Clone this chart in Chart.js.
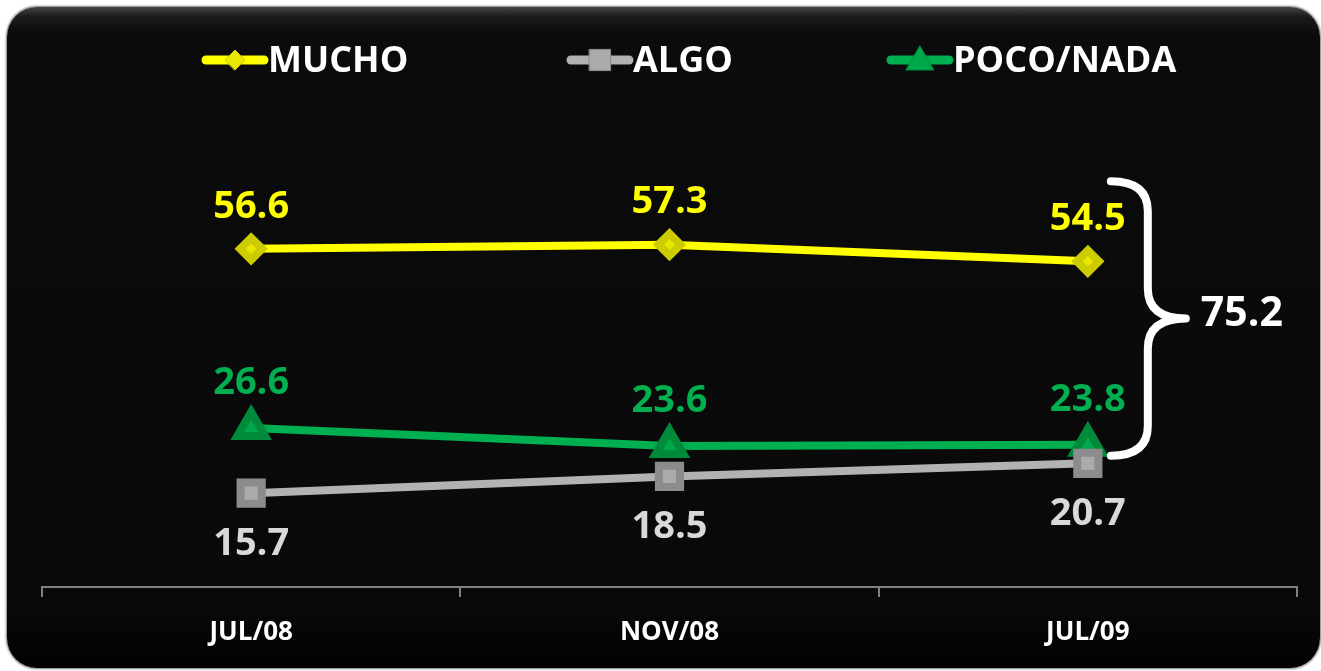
<!DOCTYPE html>
<html>
<head>
<meta charset="utf-8">
<script src="https://cdn.jsdelivr.net/npm/chart.js@4.4.1/dist/chart.umd.min.js"></script>
<style>
html,body{margin:0;padding:0;background:#fff;width:1321px;height:671px;overflow:hidden;}
#panel{position:absolute;left:7px;top:7px;width:1313px;height:661px;border-radius:30px;
background:linear-gradient(to bottom,#444 0px,#1a1a1a 10px,#0b0b0b 28px,#090909 90%,#020202 100%);
box-shadow:0 0 2px 1px rgba(90,90,90,0.8);}
#wrap{position:absolute;left:0;top:0;width:1321px;height:671px;}
</style>
</head>
<body>
<div id="panel"></div>
<div id="wrap"><canvas id="c" width="1321" height="671"></canvas></div>
<script>
const categories = ['JUL/08', 'NOV/08', 'JUL/09'];
const mucho = [56.6, 57.3, 54.5];
const algo = [15.7, 18.5, 20.7];
const pocoNada = [26.6, 23.6, 23.8];
const seriesNames = ['MUCHO', 'ALGO', 'POCO/NADA'];
const bracketTotal = '75.2';

const FONT = '"Open Sans", "DejaVu Sans", sans-serif';

const labelsPlugin = {
  id: 'valueLabels',
  afterDatasetsDraw(chart) {
    const ctx = chart.ctx;
    ctx.save();
    ctx.font = 'bold 38px ' + FONT;
    ctx.textAlign = 'center';
    ctx.textBaseline = 'middle';
    chart.data.datasets.forEach((ds, i) => {
      const meta = chart.getDatasetMeta(i);
      meta.data.forEach((pt, j) => {
        ctx.fillStyle = ds.labelColor;
        ctx.fillText(ds.data[j].toFixed(1), pt.x, pt.y + ds.labelOffset);
      });
    });
    ctx.restore();
  }
};

const bracePlugin = {
  id: 'brace',
  afterDatasetsDraw(chart) {
    const ctx = chart.ctx;
    const top = chart.getDatasetMeta(0).data[2];
    const bot = chart.getDatasetMeta(2).data[2];
    const x0 = top.x + 23;
    const y0 = top.y - 80;
    const y1 = bot.y + 11;
    const xm = x0 + 37;
    const ym = (y0 + y1) / 2;
    const xt = x0 + 75;
    const r = 30;
    ctx.save();
    ctx.strokeStyle = '#ffffff';
    ctx.lineWidth = 8;
    ctx.lineCap = 'round';
    ctx.lineJoin = 'round';
    ctx.beginPath();
    ctx.moveTo(x0, y0);
    ctx.quadraticCurveTo(xm, y0, xm, y0 + r);
    ctx.lineTo(xm, ym - r);
    ctx.quadraticCurveTo(xm, ym, xt, ym);
    ctx.quadraticCurveTo(xm, ym, xm, ym + r);
    ctx.lineTo(xm, y1 - r);
    ctx.quadraticCurveTo(xm, y1, x0, y1);
    ctx.stroke();
    ctx.fillStyle = '#ffffff';
    ctx.font = 'bold 41px ' + FONT;
    ctx.textAlign = 'left';
    ctx.textBaseline = 'middle';
    ctx.fillText(bracketTotal, xt + 15, ym - 4);
    ctx.restore();
  }
};

const legendPlugin = {
  id: 'customLegend',
  afterDraw(chart) {
    const ctx = chart.ctx;
    const items = [
      {x0: 206, x1: 264},
      {x0: 571, x1: 629},
      {x0: 891, x1: 949}
    ];
    const y = 60;
    ctx.save();
    chart.data.datasets.forEach((ds, i) => {
      const it = items[i];
      ctx.strokeStyle = ds.borderColor;
      ctx.lineWidth = 9;
      ctx.lineCap = 'round';
      ctx.beginPath();
      ctx.moveTo(it.x0, y);
      ctx.lineTo(it.x1, y);
      ctx.stroke();
      ctx.fillStyle = ds.pointBackgroundColor;
      ctx.strokeStyle = ds.pointBorderColor;
      ctx.lineWidth = 1;
      Chart.helpers.drawPoint(ctx, {
        pointStyle: ds.pointStyle, radius: ds.legendRadius, borderWidth: 1, rotation: 0
      }, (it.x0 + it.x1) / 2, y + (ds.pointStyle === 'triangle' ? 2 : 0));
      ctx.fillStyle = '#ffffff';
      ctx.font = 'bold 36px ' + FONT;
      ctx.textAlign = 'left';
      ctx.textBaseline = 'middle';
      ctx.fillText(ds.label, it.x1 + 4, y + 2);
    });
    ctx.restore();
  }
};

new Chart(document.getElementById('c'), {
  type: 'line',
  data: {
    labels: categories,
    datasets: [
      {label: seriesNames[0], data: mucho, borderColor: '#FFFF00', backgroundColor: '#FFFF00',
       pointStyle: 'rectRot', pointRadius: 11, legendRadius: 10, pointBackgroundColor: '#E8E800', pointBorderColor: '#CCCC00',
       borderWidth: 8, labelColor: '#FFFF00', labelOffset: -42},
      {label: seriesNames[1], data: algo, borderColor: '#B2B2B2', backgroundColor: '#B2B2B2',
       pointStyle: 'rect', pointRadius: 15, legendRadius: 15, pointBackgroundColor: '#ABABAB', pointBorderColor: '#8C8C8C',
       borderWidth: 8, labelColor: '#D9D9D9', labelOffset: 51},
      {label: seriesNames[2], data: pocoNada, borderColor: '#00B050', backgroundColor: '#00B050',
       pointStyle: 'triangle', pointRadius: 16, legendRadius: 16, pointBackgroundColor: '#00A84C', pointBorderColor: '#008A3C',
       borderWidth: 8, labelColor: '#00B050', labelOffset: -45}
    ]
  },
  options: {
    responsive: false,
    animation: false,
    events: [],
    layout: {padding: {top: 109, left: 42, right: 23, bottom: 0}},
    plugins: {legend: {display: false}, tooltip: {enabled: false}},
    elements: {line: {tension: 0}, point: {borderWidth: 1}},
    scales: {
      x: {
        offset: true,
        grid: {display: true, offset: true, drawOnChartArea: false, drawTicks: true, tickLength: 10, color: '#808080', lineWidth: 2},
        border: {display: true, color: '#808080', width: 2},
        ticks: {color: '#ffffff', font: {family: FONT, weight: 'bold', size: 26}, padding: 20},
        afterFit(scale) { scale.height = 84; }
      },
      y: {
        display: false,
        min: 0, max: 80
      }
    }
  },
  plugins: [labelsPlugin, bracePlugin, legendPlugin]
});
</script>
</body>
</html>
